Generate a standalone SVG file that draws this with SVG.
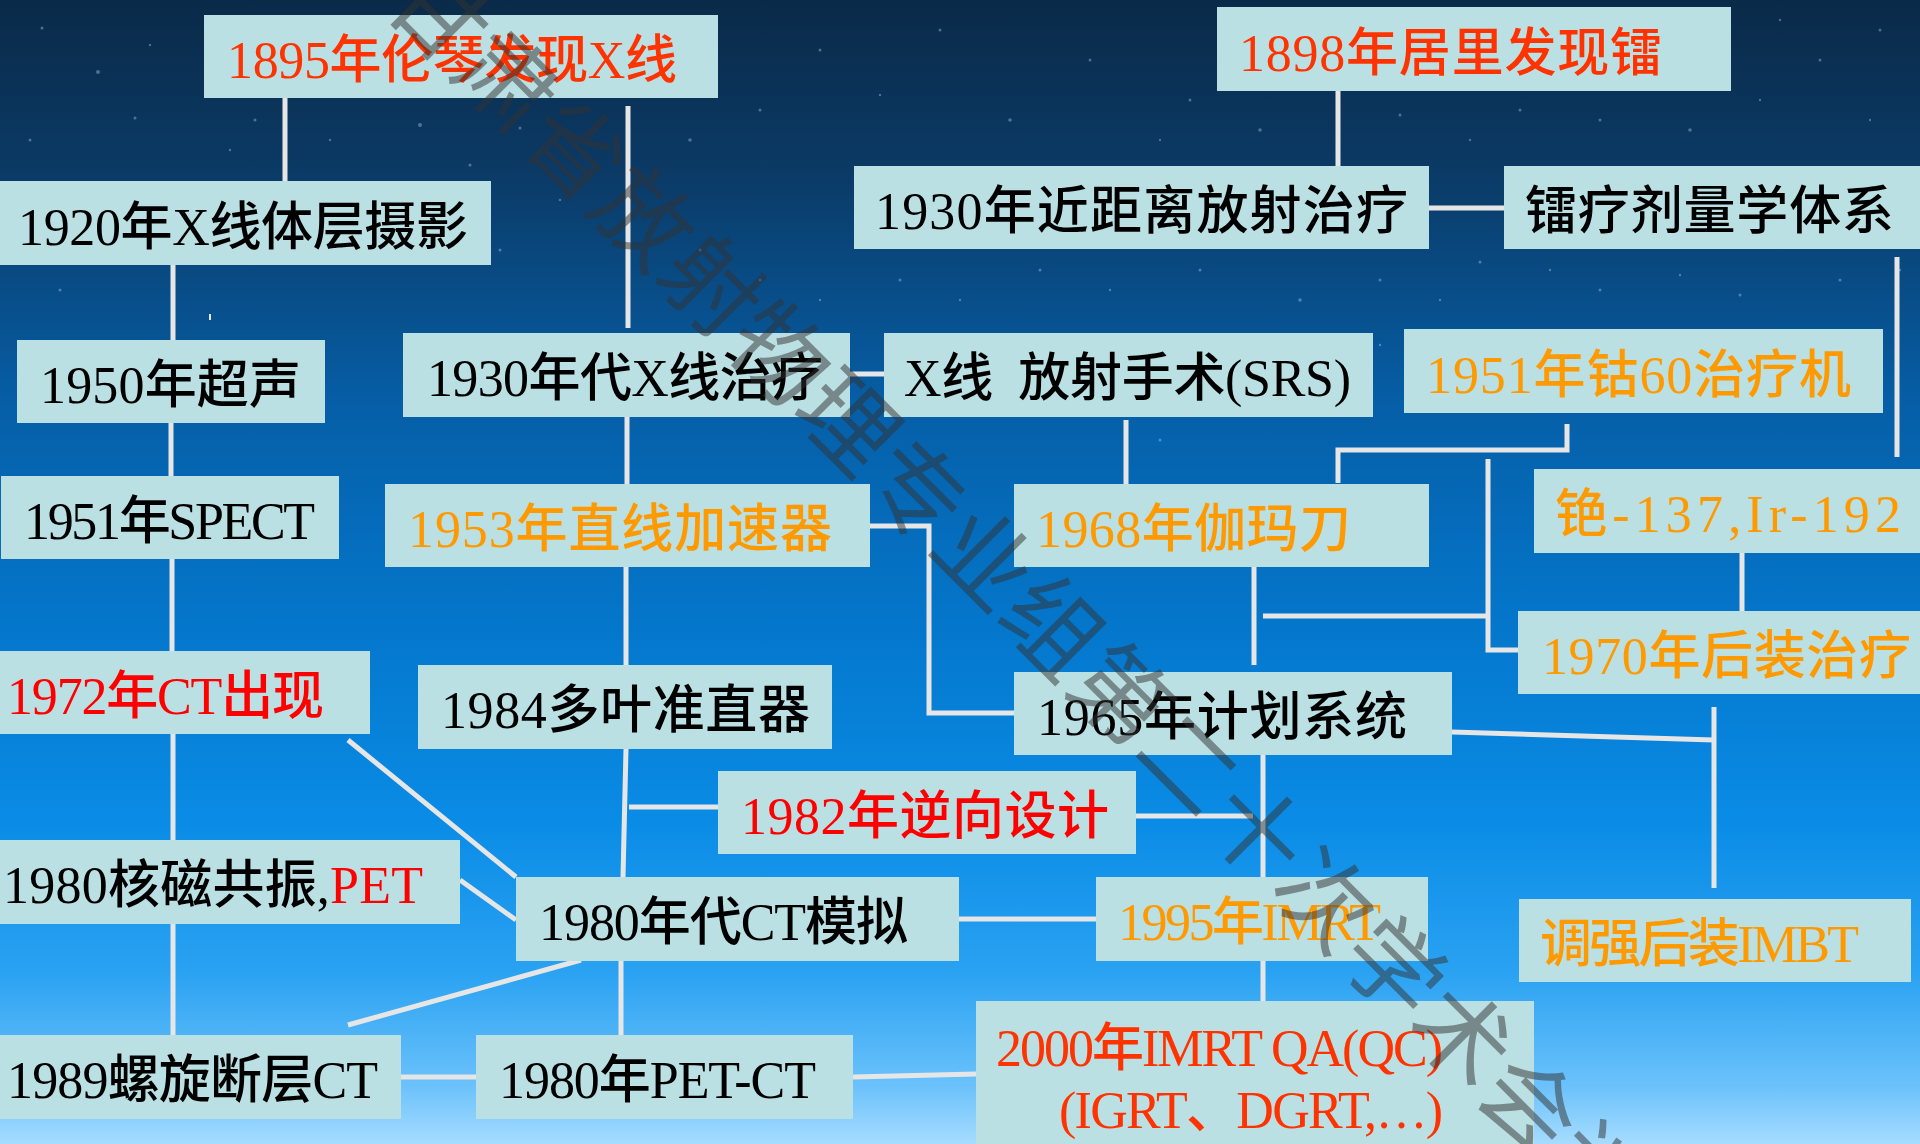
<svg xmlns="http://www.w3.org/2000/svg" width="1920" height="1144" viewBox="0 0 1920 1144">
<defs>
<linearGradient id="bg" x1="0" y1="0" x2="0" y2="1">
<stop offset="0" stop-color="#0a2a48"/>
<stop offset="0.15" stop-color="#0b3a66"/>
<stop offset="0.35" stop-color="#065ea6"/>
<stop offset="0.55" stop-color="#0477cc"/>
<stop offset="0.72" stop-color="#0a8ce6"/>
<stop offset="0.85" stop-color="#2aa2f2"/>
<stop offset="0.95" stop-color="#6cc2fb"/>
<stop offset="1" stop-color="#a6dcff"/>
</linearGradient>
<style>
.n{fill:#BBE0E3}
.t{font-family:"Liberation Serif","Noto Sans CJK SC",serif;font-size:52px;font-weight:500}
.k{fill:#000}
.r{fill:#FF0000}
.ro{fill:#FF3300}
.o{fill:#FF9900}
.c{fill:none;stroke:#E6E6E6;stroke-width:5}
.s{fill:#cfe6ff;opacity:0.35}
.wm{font-family:"Noto Sans CJK SC",sans-serif;font-size:96px;fill:#333333;opacity:0.5}
</style>
</defs>
<rect width="1920" height="1144" fill="url(#bg)"/>
<g id="stars">
<circle class="s" cx="42" cy="28" r="1.5"/><circle class="s" cx="98" cy="72" r="2"/><circle class="s" cx="135" cy="118" r="1.5"/>
<circle class="s" cx="60" cy="290" r="1.5"/><circle class="s" cx="150" cy="45" r="1.2"/><circle class="s" cx="255" cy="120" r="1.5"/>
<circle class="s" cx="330" cy="140" r="1.2"/><circle class="s" cx="420" cy="125" r="2"/><circle class="s" cx="470" cy="165" r="1.5"/>
<circle class="s" cx="520" cy="128" r="1.5"/><circle class="s" cx="690" cy="140" r="1.8"/><circle class="s" cx="760" cy="110" r="1.5"/>
<circle class="s" cx="820" cy="50" r="1.5"/><circle class="s" cx="880" cy="95" r="1.2"/><circle class="s" cx="940" cy="30" r="1.5"/>
<circle class="s" cx="1010" cy="120" r="1.8"/><circle class="s" cx="1090" cy="60" r="1.5"/><circle class="s" cx="1160" cy="140" r="1.2"/>
<circle class="s" cx="1190" cy="100" r="1.5"/><circle class="s" cx="1260" cy="130" r="1.8"/><circle class="s" cx="1400" cy="115" r="1.5"/>
<circle class="s" cx="1470" cy="140" r="1.2"/><circle class="s" cx="1520" cy="110" r="1.5"/><circle class="s" cx="1600" cy="120" r="1.5"/>
<circle class="s" cx="1690" cy="130" r="1.8"/><circle class="s" cx="1760" cy="100" r="1.2"/><circle class="s" cx="1820" cy="60" r="1.5"/>
<circle class="s" cx="1880" cy="30" r="1.5"/><circle class="s" cx="1870" cy="120" r="1.2"/><circle class="s" cx="1780" cy="20" r="1.2"/>
<circle class="s" cx="760" cy="280" r="1.5"/><circle class="s" cx="820" cy="300" r="1.2"/><circle class="s" cx="900" cy="280" r="1.5"/>
<circle class="s" cx="960" cy="300" r="1.2"/><circle class="s" cx="1040" cy="270" r="1.5"/><circle class="s" cx="1110" cy="290" r="1.2"/>
<circle class="s" cx="1200" cy="270" r="1.5"/><circle class="s" cx="1300" cy="300" r="1.8"/><circle class="s" cx="1380" cy="280" r="1.5"/>
<circle class="s" cx="1440" cy="300" r="1.2"/><circle class="s" cx="1480" cy="262" r="1.5"/><circle class="s" cx="1550" cy="270" r="1.2"/>
<circle class="s" cx="1600" cy="290" r="1.5"/><circle class="s" cx="1680" cy="275" r="1.2"/><circle class="s" cx="1740" cy="295" r="1.5"/>
<circle class="s" cx="1840" cy="280" r="1.5"/><circle class="s" cx="1900" cy="270" r="1.2"/><circle class="s" cx="440" cy="215" r="1.5"/>
<circle class="s" cx="500" cy="250" r="1.5"/><circle class="s" cx="560" cy="200" r="1.2"/><circle class="s" cx="700" cy="250" r="1.5"/>
<circle class="s" cx="1450" cy="360" r="1.5"/><circle class="s" cx="1380" cy="345" r="1.2"/><circle class="s" cx="1160" cy="440" r="1.5"/>
<circle class="s" cx="230" cy="150" r="1.2"/><circle class="s" cx="30" cy="140" r="1.5"/>
</g>
<g id="connectors">
<line class="c" x1="285" y1="98" x2="285" y2="181"/>
<line class="c" x1="628" y1="106" x2="628" y2="328"/>
<line class="c" x1="173" y1="265" x2="173" y2="340"/>
<rect x="209" y="314" width="2" height="6" fill="#E6E6E6"/>
<line class="c" x1="171" y1="423" x2="171" y2="476"/>
<line class="c" x1="172" y1="559" x2="172" y2="651"/>
<line class="c" x1="173" y1="734" x2="173" y2="840"/>
<line class="c" x1="173" y1="924" x2="173" y2="1035"/>
<line class="c" x1="348" y1="740" x2="516" y2="877"/>
<line class="c" x1="460" y1="880" x2="516" y2="920"/>
<line class="c" x1="581" y1="960" x2="348" y2="1025" stroke-width="6"/>
<line class="c" x1="401" y1="1077" x2="476" y2="1077"/>
<line class="c" x1="853" y1="1077" x2="976" y2="1074"/>
<line class="c" x1="621" y1="961" x2="621" y2="1035"/>
<line class="c" x1="626" y1="749" x2="623" y2="877"/>
<line class="c" x1="629" y1="807" x2="718" y2="807"/>
<line class="c" x1="626" y1="567" x2="626" y2="665"/>
<line class="c" x1="627" y1="417" x2="627" y2="484"/>
<line class="c" x1="850" y1="374" x2="884" y2="374"/>
<path class="c" d="M870,526 H929 V713 H1014"/>
<line class="c" x1="1126" y1="420" x2="1126" y2="484"/>
<line class="c" x1="1254" y1="567" x2="1254" y2="665"/>
<line class="c" x1="1263" y1="616" x2="1488" y2="616"/>
<path class="c" d="M1488,459 V650 H1518"/>
<path class="c" d="M1567,424 V450 H1338 V483"/>
<line class="c" x1="1897" y1="257" x2="1897" y2="457"/>
<line class="c" x1="1429" y1="208" x2="1504" y2="208" stroke-width="6"/>
<line class="c" x1="1338" y1="91" x2="1338" y2="166"/>
<line class="c" x1="1742" y1="553" x2="1742" y2="611"/>
<path class="c" d="M1452,732 L1714,740"/>
<line class="c" x1="1714" y1="707" x2="1714" y2="888"/>
<line class="c" x1="1263" y1="755" x2="1263" y2="877"/>
<line class="c" x1="1263" y1="961" x2="1263" y2="1001"/>
<line class="c" x1="1136" y1="816" x2="1253" y2="816"/>
<line class="c" x1="959" y1="919" x2="1096" y2="919"/>
</g>
<g id="n1895"><rect class="n" x="204" y="15" width="514" height="83"/><text class="t ro" x="227" y="78" textLength="450">1895年伦琴发现X线</text></g>
<g id="n1898"><rect class="n" x="1217" y="7" width="514" height="84"/><text class="t ro" x="1239" y="71" textLength="423">1898年居里发现镭</text></g>
<g id="n1920"><rect class="n" x="0" y="181" width="491" height="84"/><text class="t k" x="18" y="245" textLength="450">1920年X线体层摄影</text></g>
<g id="n1930b"><rect class="n" x="854" y="166" width="575" height="83"/><text class="t k" x="875" y="229" textLength="533">1930年近距离放射治疗</text></g>
<g id="nradium"><rect class="n" x="1504" y="166" width="416" height="83"/><text class="t k" x="1525" y="229" textLength="369">镭疗剂量学体系</text></g>
<g id="n1950"><rect class="n" x="17" y="340" width="308" height="83"/><text class="t k" x="40" y="403" textLength="261">1950年超声</text></g>
<g id="n1930x"><rect class="n" x="403" y="333" width="447" height="84"/><text class="t k" x="427" y="396" textLength="396">1930年代X线治疗</text></g>
<g id="nsrs"><rect class="n" x="884" y="333" width="489" height="84"/><text class="t k" x="904" y="396" textLength="447" xml:space="preserve">X线  放射手术(SRS)</text></g>
<g id="n1951co"><rect class="n" x="1404" y="329" width="479" height="84"/><text class="t o" x="1426" y="393" textLength="425">1951年钴60治疗机</text></g>
<g id="n1951s"><rect class="n" x="1" y="476" width="338" height="83"/><text class="t k" x="24" y="539" textLength="291">1951年SPECT</text></g>
<g id="n1953"><rect class="n" x="385" y="484" width="485" height="83"/><text class="t o" x="408" y="547" textLength="424">1953年直线加速器</text></g>
<g id="n1968"><rect class="n" x="1014" y="484" width="415" height="83"/><text class="t o" x="1036" y="547" textLength="315">1968年伽玛刀</text></g>
<g id="ncs"><rect class="n" x="1534" y="469" width="386" height="84"/><text class="t o" x="1555" y="532" textLength="346">铯-137,Ir-192</text></g>
<g id="n1970"><rect class="n" x="1518" y="611" width="402" height="83"/><text class="t o" x="1542" y="674" textLength="369">1970年后装治疗</text></g>
<g id="n1972"><rect class="n" x="0" y="651" width="370" height="83"/><text class="t r" x="7" y="714" textLength="317">1972年CT出现</text></g>
<g id="n1984"><rect class="n" x="418" y="665" width="414" height="84"/><text class="t k" x="441" y="728" textLength="369">1984多叶准直器</text></g>
<g id="n1965"><rect class="n" x="1014" y="672" width="438" height="83"/><text class="t k" x="1037" y="735" textLength="370">1965年计划系统</text></g>
<g id="n1982"><rect class="n" x="718" y="771" width="418" height="83"/><text class="t r" x="741" y="834" textLength="368">1982年逆向设计</text></g>
<g id="n1980mr"><rect class="n" x="0" y="840" width="460" height="84"/><text class="t k" x="3" y="903" textLength="420">1980核磁共振,<tspan class="r">PET</tspan></text></g>
<g id="n1980ct"><rect class="n" x="516" y="877" width="443" height="84"/><text class="t k" x="539" y="940" textLength="369">1980年代CT模拟</text></g>
<g id="n1995"><rect class="n" x="1096" y="877" width="332" height="84"/><text class="t o" x="1118" y="940" textLength="263">1995年IMRT</text></g>
<g id="nimbt"><rect class="n" x="1519" y="899" width="392" height="83"/><text class="t o" x="1540" y="962" textLength="319">调强后装IMBT</text></g>
<g id="n1989"><rect class="n" x="0" y="1035" width="401" height="84"/><text class="t k" x="7" y="1098" textLength="371">1989螺旋断层CT</text></g>
<g id="npetct"><rect class="n" x="476" y="1035" width="377" height="84"/><text class="t k" x="499" y="1098" textLength="317">1980年PET-CT</text></g>
<g id="n2000"><rect class="n" x="976" y="1001" width="558" height="150"/><text class="t ro" x="996" y="1066" textLength="447">2000年IMRT QA(QC)</text><text class="t ro" x="1059" y="1128" textLength="384">(IGRT、DGRT,…)</text></g>
<g id="watermark"><text class="wm" transform="translate(643,217) rotate(45)" x="-337" y="35" letter-spacing="0.5">甘肃省放射物理专业组第二十次学术会议</text></g>
</svg>
